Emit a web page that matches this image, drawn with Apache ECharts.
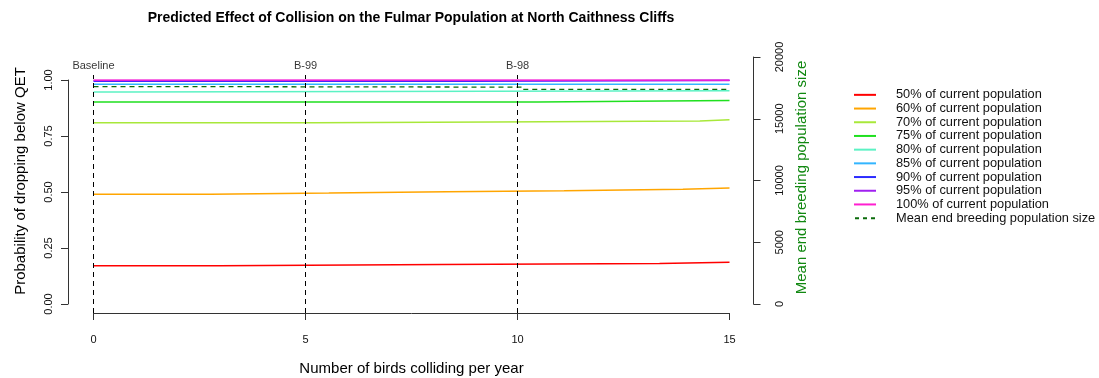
<!DOCTYPE html>
<html><head><meta charset="utf-8">
<script src="https://cdn.jsdelivr.net/npm/echarts@6/dist/echarts.min.js"></script>
<style>html,body{margin:0;padding:0;background:#fff}#c{width:1099px;height:378px}</style>
</head><body><div id="c"></div>
<script>
const titleText = 'Predicted Effect of Collision on the Fulmar Population at North Caithness Cliffs';
const xAxisTitle = 'Number of birds colliding per year';
const leftAxisTitle = 'Probability of dropping below QET';
const rightAxisTitle = 'Mean end breeding population size';
const seriesNames = ['50% of current population','60% of current population','70% of current population','75% of current population','80% of current population','85% of current population','90% of current population','95% of current population','100% of current population'];
const meanName = 'Mean end breeding population size';
// [birds colliding per year, probability] (step changes)
const p50 = [[0,0.171],[2.97,0.176],[8.2,0.181],[13.35,0.186],[15,0.186]];
const p60 = [[0,0.490],[2.76,0.495],[5.55,0.501],[8.33,0.506],[11.1,0.512],[13.9,0.518],[15,0.518]];
const p70 = [[0,0.809],[5.2,0.813],[9.4,0.817],[14.3,0.822],[15,0.822]];
const p75 = [[0,0.902],[10.48,0.909],[15,0.909]];
const p80 = [[0,0.946],[0.75,0.952],[15,0.952]];
const p85 = [[0,0.981],[15,0.981]];
const p90 = [[0,0.994],[8.8,0.999],[15,0.999]];
const p95 = [[0,0.998],[15,0.998]];
const p100 = [[0,1.0],[15,1.0]];
// [birds colliding per year, mean end breeding population size]
const meanPop = [[0,17600],[2.7,17560],[10.1,17380],[15,17380]];
const markerX = [0,5,10];
const markerLabels = ['Baseline','B-99','B-98'];

const probData = [p50,p60,p70,p75,p80,p85,p90,p95,p100];
const colors = ['#FF0000','#FFA500','#A8E83A','#1FE01F','#5CF2C4','#33B5FF','#2B2BFF','#A020F0','#FF1FD0'];
const meanColor = '#0B6B0B';
const FONT = "'Liberation Sans', Arial, sans-serif";
const axisCol = '#333';
const solidIcon = 'rect';
const dashIcon = 'path://M0,0h4v2h-4z M8,0h4v2h-4z M16,0h4v2h-4z';

const series = [];
probData.forEach((d,i)=>{
  series.push({type:'line', name:seriesNames[i], xAxisIndex:0, yAxisIndex:0, data:d, step:'end', symbol:'none',
    lineStyle:{color:colors[i], width:1.5}, itemStyle:{color:colors[i]}, silent:true, animation:false});
});
series.push({type:'line', name:meanName, xAxisIndex:1, yAxisIndex:1, data:meanPop, step:'end', symbol:'none',
  lineStyle:{color:meanColor, width:1.3, type:[5,4]}, itemStyle:{color:meanColor}, animation:false, z:3});
markerX.forEach(x=>{
  series.push({type:'line', xAxisIndex:2, yAxisIndex:2, data:[[x,0],[x,1]], symbol:'none',
    lineStyle:{color:'#000', width:1, type:[5,4]}, animation:false, silent:true, z:4});
});
series.push({type:'scatter', xAxisIndex:2, yAxisIndex:2, symbolSize:0,
  data: markerX.map((x,i)=>[x,1,markerLabels[i]]),
  label:{show:true, position:'top', distance:4, formatter:p=>p.value[2], color:'#000', fontSize:11, fontFamily:FONT},
  animation:false, silent:true});

const hiddenX = i => ({gridIndex:i, type:'value', min:0, max:15, show:false});
const gridBase = {left:93.5, right:369.5, containLabel:false, outerBoundsMode:'none'};
const chart = echarts.init(document.getElementById('c'), null, {renderer:'canvas'});
chart.setOption({
  backgroundColor:'#fff',
  animation:false,
  title:{text:titleText, left:411, top:11, padding:0, textAlign:'center',
    textStyle:{fontSize:14, fontWeight:'bold', color:'#000', fontFamily:FONT}},
  legend:{orient:'vertical', left:854, top:88, padding:0, itemWidth:22, itemHeight:2, itemGap:0,
    data:[...seriesNames.map(n=>({name:n, icon:solidIcon})), {name:meanName, icon:dashIcon}], selectedMode:false,
    textStyle:{fontSize:12.8, color:'#111', fontFamily:FONT, lineHeight:13.7, padding:[0,0,0,15]}},
  grid:[
    Object.assign({}, gridBase, {top:80, bottom:74}),
    Object.assign({}, gridBase, {top:57, bottom:74}),
    Object.assign({}, gridBase, {top:75, bottom:65})
  ],
  xAxis:[
    {gridIndex:0, type:'value', min:0, max:15, interval:5, offset:9,
      name:xAxisTitle, nameLocation:'middle', nameGap:48,
      nameTextStyle:{fontSize:15, color:'#000', fontFamily:FONT},
      axisLine:{show:true, onZero:false, lineStyle:{color:axisCol, width:1}},
      axisTick:{show:true, length:7, lineStyle:{color:axisCol}},
      axisLabel:{margin:21, fontSize:11, color:'#111', fontFamily:FONT},
      splitLine:{show:false}},
    hiddenX(1), hiddenX(2)
  ],
  yAxis:[
    {gridIndex:0, type:'value', position:'left', min:0, max:1, interval:0.25, offset:25.5,
      name:leftAxisTitle, nameLocation:'middle', nameGap:40,
      nameTextStyle:{fontSize:15, color:'#000', fontFamily:FONT, padding:[0,0,0,22]},
      axisLine:{show:true, onZero:false, lineStyle:{color:axisCol, width:1}},
      axisTick:{show:true, length:7, lineStyle:{color:axisCol}},
      axisLabel:{rotate:90, margin:14, fontSize:11, color:'#111', fontFamily:FONT, formatter:v=>v.toFixed(2)},
      splitLine:{show:false}},
    {gridIndex:1, type:'value', position:'right', min:0, max:20000, interval:5000, offset:24,
      name:rightAxisTitle, nameLocation:'middle', nameGap:41, nameRotate:90,
      nameTextStyle:{fontSize:15, color:'#118811', fontFamily:FONT, padding:[0,0,0,6]},
      axisLine:{show:true, onZero:false, lineStyle:{color:axisCol, width:1}},
      axisTick:{show:true, length:7, lineStyle:{color:axisCol}},
      axisLabel:{rotate:90, margin:21, fontSize:11, color:'#111', fontFamily:FONT, formatter:v=>String(v)},
      splitLine:{show:false}},
    {gridIndex:2, type:'value', min:0, max:1, show:false}
  ],
  series
});
</script></body></html>
